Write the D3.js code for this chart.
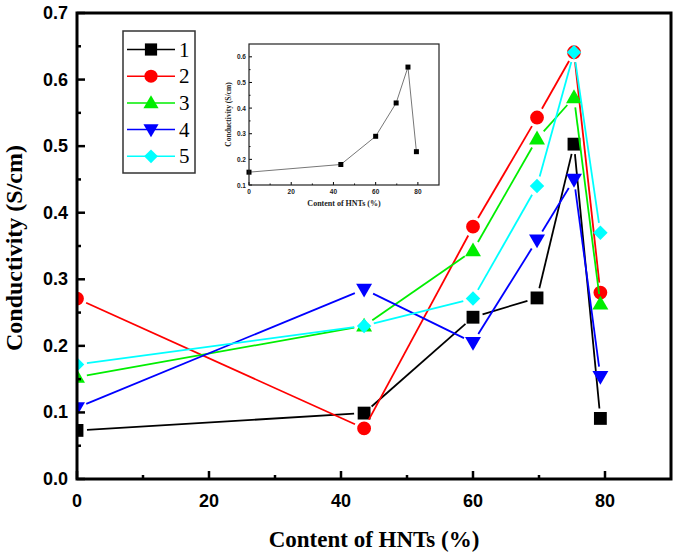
<!DOCTYPE html>
<html><head><meta charset="utf-8">
<script src="https://cdn.jsdelivr.net/npm/d3@7"></script>
<style>html,body{margin:0;padding:0;background:#fff;}svg{display:block;}</style>
</head><body>
<script>
const xValues = [0, 43.5, 60, 69.7, 75.3, 79.3];
const seriesNames = ["1", "2", "3", "4", "5"];
const seriesColors = ["#000000", "#ff0000", "#00ee00", "#0000ff", "#00ffff"];
const seriesShapes = ["square", "circle", "triangle", "triangleDown", "diamond"];
const s1 = [0.073, 0.099, 0.243, 0.272, 0.503, 0.091];
const s2 = [0.271, 0.076, 0.379, 0.543, 0.641, 0.280];
const s3 = [0.153, 0.230, 0.343, 0.511, 0.573, 0.263];
const s4 = [0.107, 0.285, 0.205, 0.359, 0.450, 0.154];
const s5 = [0.172, 0.230, 0.271, 0.440, 0.641, 0.370];
const seriesValues = [s1, s2, s3, s4, s5];
const xTicks = [0, 20, 40, 60, 80];
const yTicks = [0.0, 0.1, 0.2, 0.3, 0.4, 0.5, 0.6, 0.7];
const insetX = [0, 43.5, 60, 69.7, 75.3, 79.3];
const insetY = [0.15, 0.18, 0.29, 0.42, 0.56, 0.23];
const insetXTicks = [0, 20, 40, 60, 80];
const insetYTicks = [0.1, 0.2, 0.3, 0.4, 0.5, 0.6];

const W = 675, H = 557;
const svg = d3.select("body").append("svg").attr("width", W).attr("height", H);
const L = 77, R = 671, T = 13, B = 479;
const x = d3.scaleLinear().domain([0, 90]).range([L, R]);
const y = d3.scaleLinear().domain([0, 0.7]).range([B, T]);

const symMap = {square: d3.symbolSquare, circle: d3.symbolCircle, triangle: d3.symbolTriangle,
  triangleDown: d3.symbolTriangle, diamond: d3.symbolSquare};
const symSize = {square: 165, circle: 150, triangle: 110, triangleDown: 110, diamond: 105};
function marker(g, shape, cx, cy, color, scale) {
  scale = scale || 1;
  const p = d3.symbol().type(symMap[shape]).size(symSize[shape] * scale * scale)();
  let tr = `translate(${cx},${cy})`;
  if (shape === "triangleDown") tr += " rotate(180)";
  if (shape === "triangle") tr += " translate(0,1)";
  if (shape === "triangleDown") tr += " translate(0,1)";
  if (shape === "diamond") tr += " rotate(45)";
  g.append("path").attr("d", p).attr("transform", tr).attr("fill", color);
}

// clip
svg.append("clipPath").attr("id", "clip").append("rect")
  .attr("x", L).attr("y", T).attr("width", R - L).attr("height", B - T);
const plot = svg.append("g").attr("clip-path", "url(#clip)");

const gap = 10;
seriesValues.forEach((vals, si) => {
  const g = plot.append("g");
  const pts = vals.map((v, i) => [x(xValues[i]), y(v)]);
  for (let i = 0; i < pts.length - 1; i++) {
    const [x1, y1] = pts[i], [x2, y2] = pts[i + 1];
    const dx = x2 - x1, dy = y2 - y1, len = Math.hypot(dx, dy);
    if (len <= 2 * gap) continue;
    const ux = dx / len, uy = dy / len;
    g.append("line").attr("x1", x1 + ux * gap).attr("y1", y1 + uy * gap)
      .attr("x2", x2 - ux * gap).attr("y2", y2 - uy * gap)
      .attr("stroke", seriesColors[si]).attr("stroke-width", 1.8);
  }
  pts.forEach(p => marker(g, seriesShapes[si], p[0], p[1], seriesColors[si]));
});

// axes with inward ticks
const ax = svg.append("g");
const xMinor = d3.range(10, 90, 20);
const yMinor = d3.range(0.05, 0.7, 0.1);
xTicks.forEach(t => ax.append("line").attr("x1", x(t)).attr("x2", x(t)).attr("y1", B).attr("y2", B - 8).attr("stroke", "#000").attr("stroke-width", 2.5));
xMinor.forEach(t => ax.append("line").attr("x1", x(t)).attr("x2", x(t)).attr("y1", B).attr("y2", B - 4).attr("stroke", "#000").attr("stroke-width", 2.5));
yTicks.forEach(t => ax.append("line").attr("x1", L).attr("x2", L + 8).attr("y1", y(t)).attr("y2", y(t)).attr("stroke", "#000").attr("stroke-width", 2.5));
yMinor.forEach(t => ax.append("line").attr("x1", L).attr("x2", L + 4).attr("y1", y(t)).attr("y2", y(t)).attr("stroke", "#000").attr("stroke-width", 2.5));
ax.append("rect").attr("x", L).attr("y", T).attr("width", R - L).attr("height", B - T)
  .attr("fill", "none").attr("stroke", "#000").attr("stroke-width", 3);

const tickFont = "'Liberation Sans', Arial, sans-serif";
xTicks.forEach(t => ax.append("text").attr("x", x(t)).attr("y", 507).attr("text-anchor", "middle")
  .attr("font-family", tickFont).attr("font-weight", "bold").attr("font-size", 18).text(t));
yTicks.forEach(t => ax.append("text").attr("x", 68).attr("y", y(t) + 6).attr("text-anchor", "end")
  .attr("font-family", tickFont).attr("font-weight", "bold").attr("font-size", 18).text(d3.format(".1f")(t)));

const serif = "'Liberation Serif', 'Times New Roman', serif";
svg.append("text").attr("x", (L + R) / 2).attr("y", 547).attr("text-anchor", "middle")
  .attr("font-family", serif).attr("font-weight", "bold").attr("font-size", 23).text("Content of HNTs (%)");
svg.append("text").attr("transform", `translate(22,${(T + B) / 2 + 2}) rotate(-90)`).attr("text-anchor", "middle")
  .attr("font-family", serif).attr("font-weight", "bold").attr("font-size", 24).text("Conductivity (S/cm)");

// legend
const lg = svg.append("g");
lg.append("rect").attr("x", 123).attr("y", 31).attr("width", 72).attr("height", 142)
  .attr("fill", "#fff").attr("stroke", "#333").attr("stroke-width", 1.5);
seriesNames.forEach((n, i) => {
  const cy = 49.5 + i * 26.7;
  lg.append("line").attr("x1", 127).attr("x2", 175).attr("y1", cy).attr("y2", cy)
    .attr("stroke", seriesColors[i]).attr("stroke-width", 1.5);
  marker(lg, seriesShapes[i], 151, cy, seriesColors[i], 0.95);
  lg.append("text").attr("x", 179).attr("y", cy + 7).attr("font-family", serif)
    .attr("font-size", 21).text(n);
});

// inset
const iL = 249, iR = 439, iT = 44, iB = 185;
const ix = d3.scaleLinear().domain([0, 90]).range([iL, iR]);
const iy = d3.scaleLinear().domain([0.1, 0.65]).range([iB, iT]);
const ig = svg.append("g");
ig.append("rect").attr("x", iL).attr("y", iT).attr("width", iR - iL).attr("height", iB - iT).attr("fill", "#fff");
const ic = ig.append("g");
ic.append("path").datum(insetX.map((v, i) => [ix(v), iy(insetY[i])]))
  .attr("d", d3.line()).attr("fill", "none").attr("stroke", "#777").attr("stroke-width", 1);
insetX.forEach((v, i) => ic.append("rect").attr("x", ix(v) - 2.5).attr("y", iy(insetY[i]) - 2.5)
  .attr("width", 5).attr("height", 5).attr("fill", "#000"));
insetXTicks.forEach(t => {
  ig.append("line").attr("x1", ix(t)).attr("x2", ix(t)).attr("y1", iB).attr("y2", iB - 3).attr("stroke", "#000");
  ig.append("text").attr("x", ix(t)).attr("y", iB + 9).attr("text-anchor", "middle")
    .attr("font-family", tickFont).attr("font-weight", "bold").attr("font-size", 6.5).attr("fill", "#222").text(t);
});
d3.range(10, 90, 20).forEach(t => ig.append("line").attr("x1", ix(t)).attr("x2", ix(t)).attr("y1", iB).attr("y2", iB - 1.5).attr("stroke", "#000"));
insetYTicks.forEach(t => {
  ig.append("line").attr("x1", iL).attr("x2", iL + 3).attr("y1", iy(t)).attr("y2", iy(t)).attr("stroke", "#000");
  ig.append("text").attr("x", iL - 3).attr("y", iy(t) + 2.5).attr("text-anchor", "end")
    .attr("font-family", tickFont).attr("font-weight", "bold").attr("font-size", 6.5).attr("fill", "#222").text(d3.format(".1f")(t));
});
d3.range(0.15, 0.65, 0.1).forEach(t => ig.append("line").attr("x1", iL).attr("x2", iL + 1.5).attr("y1", iy(t)).attr("y2", iy(t)).attr("stroke", "#000"));
ig.append("rect").attr("x", iL).attr("y", iT).attr("width", iR - iL).attr("height", iB - iT)
  .attr("fill", "none").attr("stroke", "#222").attr("stroke-width", 1.2);
ig.append("text").attr("x", (iL + iR) / 2).attr("y", 206).attr("text-anchor", "middle")
  .attr("font-family", serif).attr("font-weight", "bold").attr("font-size", 8).attr("fill", "#222").text("Content of HNTs (%)");
ig.append("text").attr("transform", `translate(231,${(iT + iB) / 2}) rotate(-90)`).attr("text-anchor", "middle")
  .attr("font-family", serif).attr("font-weight", "bold").attr("font-size", 7.5).attr("fill", "#222").text("Conductivity (S/cm)");
</script>
</body></html>
